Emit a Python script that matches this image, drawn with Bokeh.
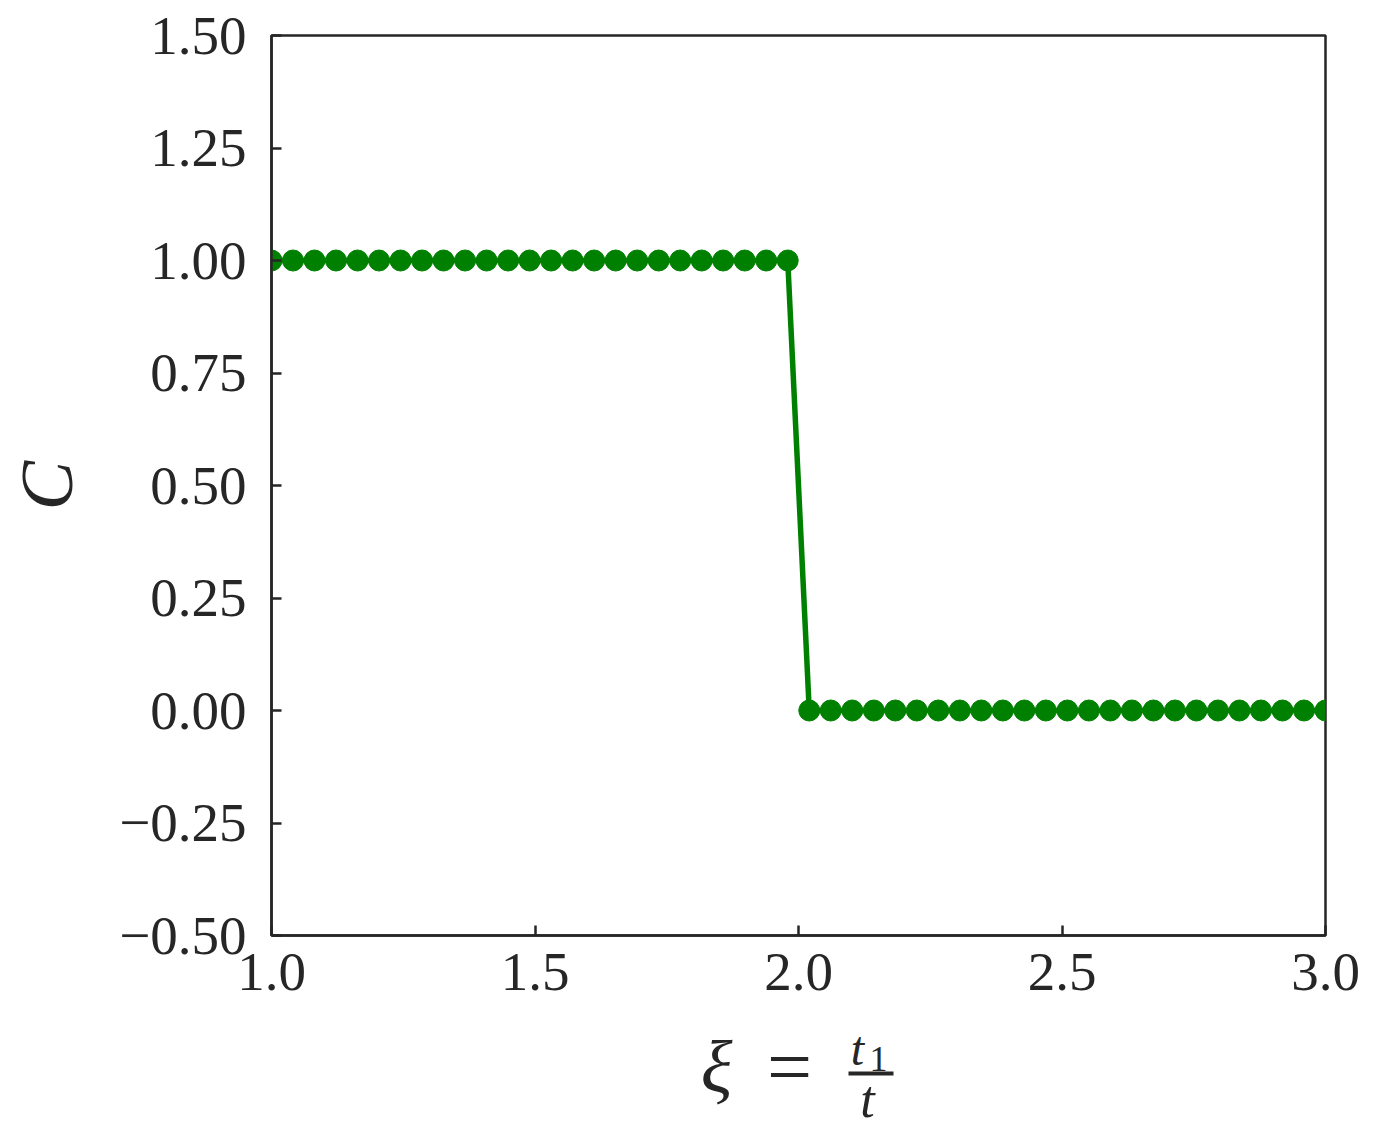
from bokeh.plotting import figure
from bokeh.layouts import column
from bokeh.models import Range1d, FixedTicker
from bokeh.core.properties import value
from bokeh.embed import file_html
from bokeh.resources import INLINE

# ---- data ----
xi = [1.0, 1.0408, 1.0816, 1.1224, 1.1633, 1.2041, 1.2449, 1.2857, 1.3265, 1.3673,
      1.4082, 1.449, 1.4898, 1.5306, 1.5714, 1.6122, 1.6531, 1.6939, 1.7347, 1.7755,
      1.8163, 1.8571, 1.898, 1.9388, 1.9796, 2.0204, 2.0612, 2.102, 2.1429, 2.1837,
      2.2245, 2.2653, 2.3061, 2.3469, 2.3878, 2.4286, 2.4694, 2.5102, 2.551, 2.5918,
      2.6327, 2.6735, 2.7143, 2.7551, 2.7959, 2.8367, 2.8776, 2.9184, 2.9592, 3.0]
C = [1, 1, 1, 1, 1, 1, 1, 1, 1, 1, 1, 1, 1, 1, 1, 1, 1, 1, 1, 1, 1, 1, 1, 1, 1,
     0, 0, 0, 0, 0, 0, 0, 0, 0, 0, 0, 0, 0, 0, 0, 0, 0, 0, 0, 0, 0, 0, 0, 0, 0]

x_ticks = [1.0, 1.5, 2.0, 2.5, 3.0]
x_tick_labels = ["1.0", "1.5", "2.0", "2.5", "3.0"]
y_ticks = [-0.5, -0.25, 0.0, 0.25, 0.5, 0.75, 1.0, 1.25, 1.5]
y_tick_labels = ["\u22120.50", "\u22120.25", "0.00", "0.25", "0.50", "0.75", "1.00", "1.25", "1.50"]

INK = "#262626"
GREEN = "#008000"
FONT = "Liberation Serif"

p = figure(width=1360, height=1020, output_backend="svg", toolbar_location=None,
           x_range=Range1d(1.0, 3.0), y_range=Range1d(-0.5, 1.5),
           min_border_left=271, min_border_top=35, min_border_right=35,
           min_border_bottom=85)
p.grid.visible = False
p.background_fill_color = "white"
p.border_fill_color = "white"
p.outline_line_color = INK
p.outline_line_width = 2.5

for ax in (p.xaxis[0], p.yaxis[0]):
    ax.axis_line_color = INK
    ax.axis_line_width = 2.5
    ax.major_tick_line_color = INK
    ax.major_tick_line_width = 2.5
    ax.major_tick_in = 10
    ax.major_tick_out = 0
    ax.minor_tick_line_color = None
    ax.major_label_text_font = FONT
    ax.major_label_text_font_size = "55px"
    ax.major_label_text_color = INK
p.xaxis.major_label_standoff = 18
p.yaxis.major_label_standoff = 25

p.xaxis.ticker = FixedTicker(ticks=x_ticks)
p.xaxis.major_label_overrides = dict(zip(x_ticks, x_tick_labels))
p.yaxis.ticker = FixedTicker(ticks=y_ticks)
p.yaxis.major_label_overrides = dict(zip(y_ticks, y_tick_labels))

p.yaxis.axis_label = "C"
p.yaxis.axis_label_text_font = FONT
p.yaxis.axis_label_text_font_style = "italic"
p.yaxis.axis_label_text_font_size = "74px"
p.yaxis.axis_label_text_color = INK
p.yaxis.axis_label_standoff = 28

p.line(xi, C, line_color=GREEN, line_width=5.5)
p.scatter(xi, C, size=21, fill_color=GREEN, line_color=GREEN)

# ---- x-axis label strip: xi = t_1 / t (positions in page pixels) ----
TOP = 1020
H = 114
q = figure(width=1360, height=H, output_backend="svg", toolbar_location=None,
           x_range=Range1d(271, 1325), y_range=Range1d(0, H),
           min_border_left=271, min_border_right=35, min_border_top=0, min_border_bottom=0)
q.axis.visible = False
q.grid.visible = False
q.outline_line_color = None
q.background_fill_color = "white"
q.border_fill_color = "white"

def lab(x, y, text, size, style="italic", baseline="middle"):
    q.text(x=[x], y=[TOP + H - y], text=[text], text_font=value(FONT),
           text_font_size=size, text_font_style=style, text_color=INK,
           text_align="center", text_baseline=baseline)

lab(716, 1066, "\u03be", "74px")
lab(789, 1066, "=", "80px", style="normal")
lab(857, 1048, "t", "48px")
lab(878, 1058, "1", "36px", style="normal")
lab(867, 1099, "t", "52px", baseline="alphabetic")
q.quad(left=[848], right=[893], bottom=[TOP + H - 1075], top=[TOP + H - 1071],
       fill_color=INK, line_color=None)

open("out.html", "w").write(file_html(column(p, q, spacing=0), INLINE))
